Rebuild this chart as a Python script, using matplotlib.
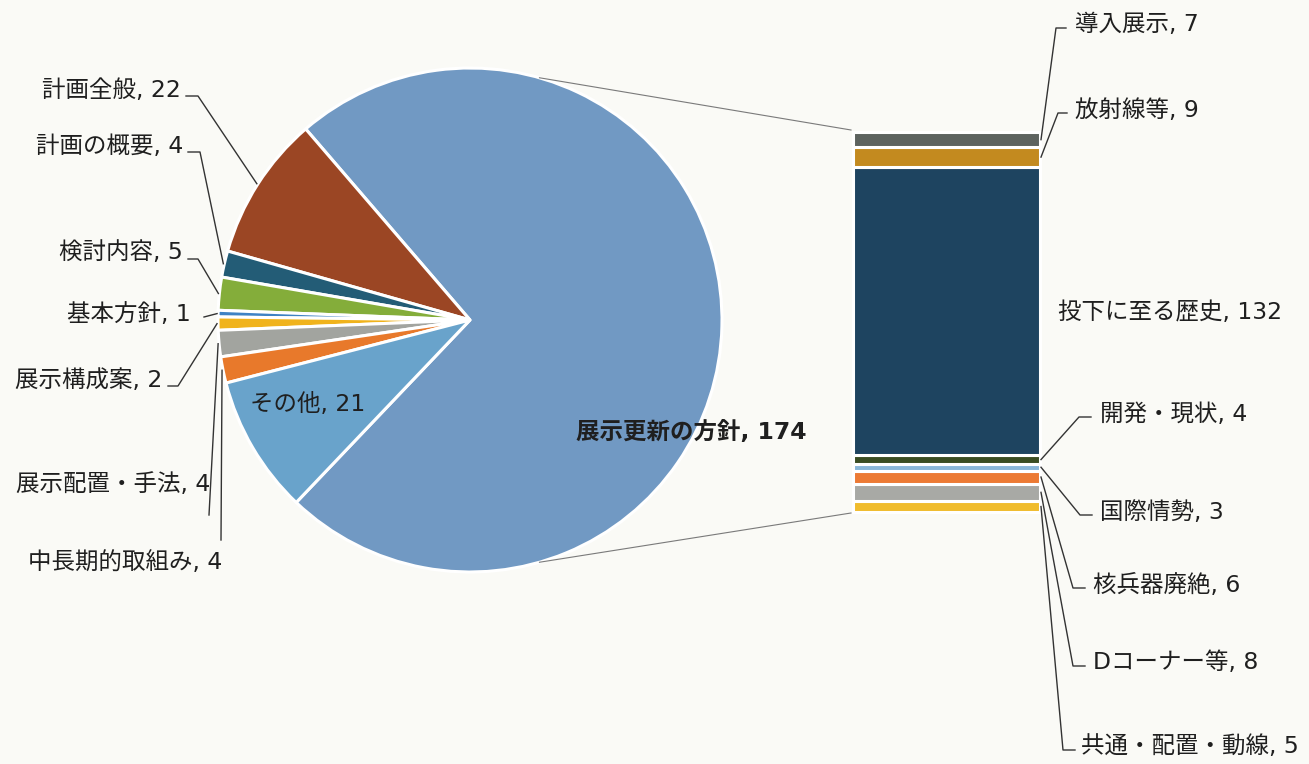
import numpy as np
import matplotlib.pyplot as plt

# Latin glyphs from DejaVu (wide, like the original), kana/kanji from Noto CJK
plt.rcParams['font.family'] = ['DejaVu Sans', 'Noto Sans CJK JP']
plt.rcParams['font.size'] = 16.9

W, H = 1309, 764

# pie data (counterclockwise from the split slice)
pie_labels = ['展示更新の方針', '計画全般', '計画の概要', '検討内容', '基本方針',
              '展示構成案', '展示配置・手法', '中長期的取組み', 'その他']
pie_values = [174, 22, 4, 5, 1, 2, 4, 4, 21]
pie_colors = ['#7199c3', '#9b4624', '#235c76', '#84ad3a', '#3f82c4',
              '#f0b31c', '#a2a49f', '#e8792b', '#69a3cb']

# bar data (top to bottom) = breakdown of 展示更新の方針
bar_labels = ['導入展示', '放射線等', '投下に至る歴史', '開発・現状', '国際情勢',
              '核兵器廃絶', 'Dコーナー等', '共通・配置・動線']
bar_values = [7, 9, 132, 4, 3, 6, 8, 5]
bar_colors = ['#5d635f', '#c38a1f', '#1e4460', '#3a4d22', '#89b7d8',
              '#ec7a34', '#a8a9a5', '#f0bc2d']

# layout, in pixel coords (y down)
pie_center = (470, 320)
pie_radius = 252
bar_left, bar_right, bar_top, bar_bottom = 853, 1040, 132, 512

# text position, alignment, leader elbow points
pie_label_layout = [
    ((691, 432), 'center', None),
    ((181, 90), 'right', [(198, 96), (186, 96)]),
    ((183, 146), 'right', [(200, 152), (188, 152)]),
    ((183, 252), 'right', [(198, 259), (188, 259)]),
    ((191, 314), 'right', [(204, 317)]),
    ((162, 381), 'right', [(178, 386), (168, 386)]),
    ((210, 484), 'right', [(209, 515)]),
    ((222, 563), 'right', [(221, 540)]),
    ((308, 405), 'center', None),
]
bar_label_layout = [
    ((1075, 25), 'left', [(1056, 28), (1066, 28)]),
    ((1075, 110), 'left', [(1058, 113), (1067, 113)]),
    ((1058, 312), 'left', None),
    ((1100, 415), 'left', [(1079, 417), (1091, 417)]),
    ((1100, 513), 'left', [(1080, 515), (1092, 515)]),
    ((1093, 585), 'left', [(1073, 588), (1085, 588)]),
    ((1093, 663), 'left', [(1073, 666), (1085, 666)]),
    ((1081, 747), 'left', [(1063, 750), (1075, 750)]),
]


def px(p):
    return (p[0], H - p[1])


fig = plt.figure(figsize=(W / 100, H / 100), dpi=100)
fig.patch.set_facecolor('#fafaf6')
ax = fig.add_axes([0, 0, 1, 1])
ax.set_facecolor('#fafaf6')

# pie
big_share = pie_values[0] / sum(pie_values) * 360
wedges, _ = ax.pie(pie_values, colors=pie_colors, startangle=130.7 - big_share,
                   counterclock=True, center=px(pie_center), radius=pie_radius,
                   wedgeprops=dict(edgecolor='white', linewidth=2.2), frame=True)

# bar of the split slice
scale = (bar_bottom - bar_top) / sum(bar_values)
heights = np.array(bar_values[::-1]) * scale
bottoms = (H - bar_bottom) + np.concatenate([[0], np.cumsum(heights)[:-1]])
bars = ax.bar((bar_left + bar_right) / 2, heights, bottom=bottoms,
              width=bar_right - bar_left, color=bar_colors[::-1],
              edgecolor='white', linewidth=2.2)
bars = list(bars)[::-1]

# connector lines
for ang in (74, -74):
    a = np.deg2rad(ang)
    cx, cy = px(pie_center)
    y_bar = H - bar_top if ang > 0 else H - bar_bottom
    ax.plot([cx + pie_radius * np.cos(a), bar_left - 2],
            [cy + pie_radius * np.sin(a), y_bar + (2 if ang > 0 else -1)],
            color='#7a7a7a', lw=0.8, zorder=1)

lead_kw = dict(color='#333333', lw=1.0, zorder=3)
txt_color = '#1f1f1f'

# pie labels
for w, lab, val, (pos, ha, pts) in zip(wedges, pie_labels, pie_values, pie_label_layout):
    mid = np.deg2rad((w.theta1 + w.theta2) / 2)
    cx, cy = px(pie_center)
    anchor = (cx + (pie_radius + 1) * np.cos(mid), cy + (pie_radius + 1) * np.sin(mid))
    weight = 'bold' if val == max(pie_values) else 'normal'
    ax.text(*px(pos), f'{lab}, {val}', ha=ha, va='center', color=txt_color,
            fontweight=weight, zorder=4)
    if pts:
        path = [anchor] + [px(p) for p in pts]
        ax.plot(*zip(*path), **lead_kw)

# bar labels
for r, lab, val, (pos, ha, pts) in zip(bars, bar_labels, bar_values, bar_label_layout):
    anchor = (r.get_x() + r.get_width() + 1, r.get_y() + r.get_height() / 2)
    ax.text(*px(pos), f'{lab}, {val}', ha=ha, va='center', color=txt_color, zorder=4)
    if pts:
        path = [anchor] + [px(p) for p in pts]
        ax.plot(*zip(*path), **lead_kw)

ax.set_xlim(0, W)
ax.set_ylim(0, H)
ax.set_aspect('auto')
ax.axis('off')

fig.savefig('out.png', dpi=100, facecolor=fig.get_facecolor())
